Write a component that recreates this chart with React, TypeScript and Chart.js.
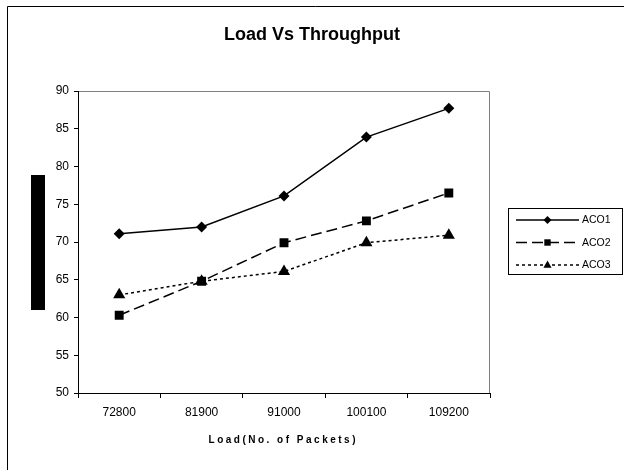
import React, { useEffect, useRef } from 'react';
import { Chart, registerables } from 'chart.js';

Chart.register(...registerables);

// ---- Data ----
const categories = ['72800', '81900', '91000', '100100', '109200'];
const aco1 = [71.1, 72.0, 76.1, 83.9, 87.7];
const aco2 = [60.3, 64.8, 69.9, 72.8, 76.5];
const aco3 = [63.0, 64.8, 66.1, 69.9, 70.9];
const seriesLabels = ['ACO1', 'ACO2', 'ACO3'];
const yMin = 50;
const yMax = 90;
const yStep = 5;
const chartTitle = 'Load Vs Throughput';
const xAxisTitle = 'Load(No. of Packets)';

const FONT = '"Liberation Sans", Arial, sans-serif';

const dashes: number[][] = [[], [11, 5], [3, 3]];
const markers = ['rectRot', 'rect', 'triangle'];

function drawMarker(ctx: CanvasRenderingContext2D, style: string, x: number, y: number, r: number) {
  ctx.beginPath();
  if (style === 'rectRot') {
    ctx.moveTo(x, y - r);
    ctx.lineTo(x + r, y);
    ctx.lineTo(x, y + r);
    ctx.lineTo(x - r, y);
  } else if (style === 'rect') {
    const s = r * 0.8;
    ctx.rect(x - s, y - s, 2 * s, 2 * s);
  } else {
    ctx.moveTo(x, y - r);
    ctx.lineTo(x + r * 0.9, y + r * 0.6);
    ctx.lineTo(x - r * 0.9, y + r * 0.6);
  }
  ctx.closePath();
  ctx.fill();
}

const decorPlugin = {
  id: 'decor',
  beforeDraw(chart: any) {
    const ctx: CanvasRenderingContext2D = chart.ctx;
    const { left, top, right, bottom } = chart.chartArea;
    ctx.save();
    ctx.fillStyle = '#ffffff';
    ctx.fillRect(0, 0, chart.width, chart.height);
    // outer frame (top + left)
    ctx.strokeStyle = '#000';
    ctx.lineWidth = 1;
    ctx.beginPath();
    ctx.moveTo(7.5, chart.height);
    ctx.lineTo(7.5, 6.5);
    ctx.lineTo(chart.width, 6.5);
    ctx.stroke();
    // plot area border (top + right), gray
    ctx.strokeStyle = '#808080';
    ctx.beginPath();
    ctx.moveTo(left, top + 0.5);
    ctx.lineTo(right - 0.5, top + 0.5);
    ctx.lineTo(right - 0.5, bottom);
    ctx.stroke();
    ctx.restore();
  },
  afterDraw(chart: any) {
    const ctx: CanvasRenderingContext2D = chart.ctx;
    const { left, right } = chart.chartArea;
    ctx.save();
    // title
    ctx.fillStyle = '#000';
    ctx.font = `bold 18px ${FONT}`;
    ctx.textAlign = 'center';
    ctx.textBaseline = 'alphabetic';
    ctx.fillText(chartTitle, chart.width / 2, 39.5);

    // x-axis title with letter spacing
    ctx.font = `bold 10px ${FONT}`;
    (ctx as any).letterSpacing = '2.5px';
    ctx.textAlign = 'left';
    const w = ctx.measureText(xAxisTitle).width - 2.5;
    ctx.fillText(xAxisTitle, (left + right) / 2 - w / 2 - 2, 442.5);
    (ctx as any).letterSpacing = '0px';

    // y-axis title placeholder (solid black bar as in reference)
    ctx.fillStyle = '#000';
    ctx.fillRect(31, 175, 14, 135);

    // legend
    const lx = 508.5, ly = 208.5, lw = 114, lh = 66;
    ctx.strokeStyle = '#000';
    ctx.lineWidth = 1;
    ctx.strokeRect(lx, ly, lw, lh);
    ctx.font = `10.5px ${FONT}`;
    ctx.textBaseline = 'middle';
    ctx.textAlign = 'left';
    chart.data.datasets.forEach((ds: any, i: number) => {
      const y = 220 + i * 22.5;
      ctx.strokeStyle = '#000';
      ctx.lineWidth = 1.5;
      ctx.setLineDash(dashes[i]);
      ctx.beginPath();
      ctx.moveTo(516, y);
      ctx.lineTo(579, y);
      ctx.stroke();
      ctx.setLineDash([]);
      ctx.fillStyle = '#000';
      drawMarker(ctx, markers[i], 547.5, y, markers[i] === 'triangle' ? 4.5 : 4);
      ctx.fillText(ds.label, 582, y + 0.5);
    });
    ctx.restore();
  },
};

export default function App() {
  const ref = useRef<HTMLCanvasElement | null>(null);

  useEffect(() => {
    document.body.style.margin = '0';
    const canvas = ref.current;
    if (!canvas) return;
    const values = [aco1, aco2, aco3];
    const radii = [5.5, 6.3, 7];
    const chart = new Chart(canvas, {
      type: 'line',
      data: {
        labels: categories,
        datasets: values.map((v, i) => ({
          label: seriesLabels[i],
          data: v,
          borderColor: '#000',
          backgroundColor: '#000',
          borderWidth: 1.5,
          borderDash: dashes[i],
          pointStyle: markers[i] as any,
          pointRadius: radii[i],
          pointBorderWidth: 0,
          pointBackgroundColor: '#000',
          fill: false,
          tension: 0,
        })),
      },
      options: {
        responsive: false,
        animation: false,
        layout: { padding: { top: 91, right: 134, left: 0, bottom: 0 } },
        plugins: {
          legend: { display: false },
          title: { display: false },
          tooltip: { enabled: false },
        },
        scales: {
          x: {
            type: 'category',
            offset: true,
            grid: {
              offset: true,
              drawOnChartArea: false,
              drawTicks: true,
              tickLength: 5,
              color: '#000',
            },
            border: { display: true, color: '#000', width: 1 },
            ticks: {
              color: '#000',
              font: { family: FONT, size: 12 },
              padding: 7,
              maxRotation: 0,
              autoSkip: false,
            },
            afterFit: (s: any) => {
              s.height = 77;
            },
          },
          y: {
            min: yMin,
            max: yMax,
            ticks: {
              stepSize: yStep,
              color: '#000',
              font: { family: FONT, size: 12 },
              padding: 5,
            },
            grid: {
              drawOnChartArea: false,
              drawTicks: true,
              tickLength: 4,
              color: '#000',
            },
            border: { display: true, color: '#000', width: 1 },
            afterFit: (s: any) => {
              s.width = 78;
            },
          },
        },
      },
      plugins: [decorPlugin],
    });
    return () => chart.destroy();
  }, []);

  return <canvas ref={ref} width={624} height={470} style={{ display: 'block' }} />;
}
